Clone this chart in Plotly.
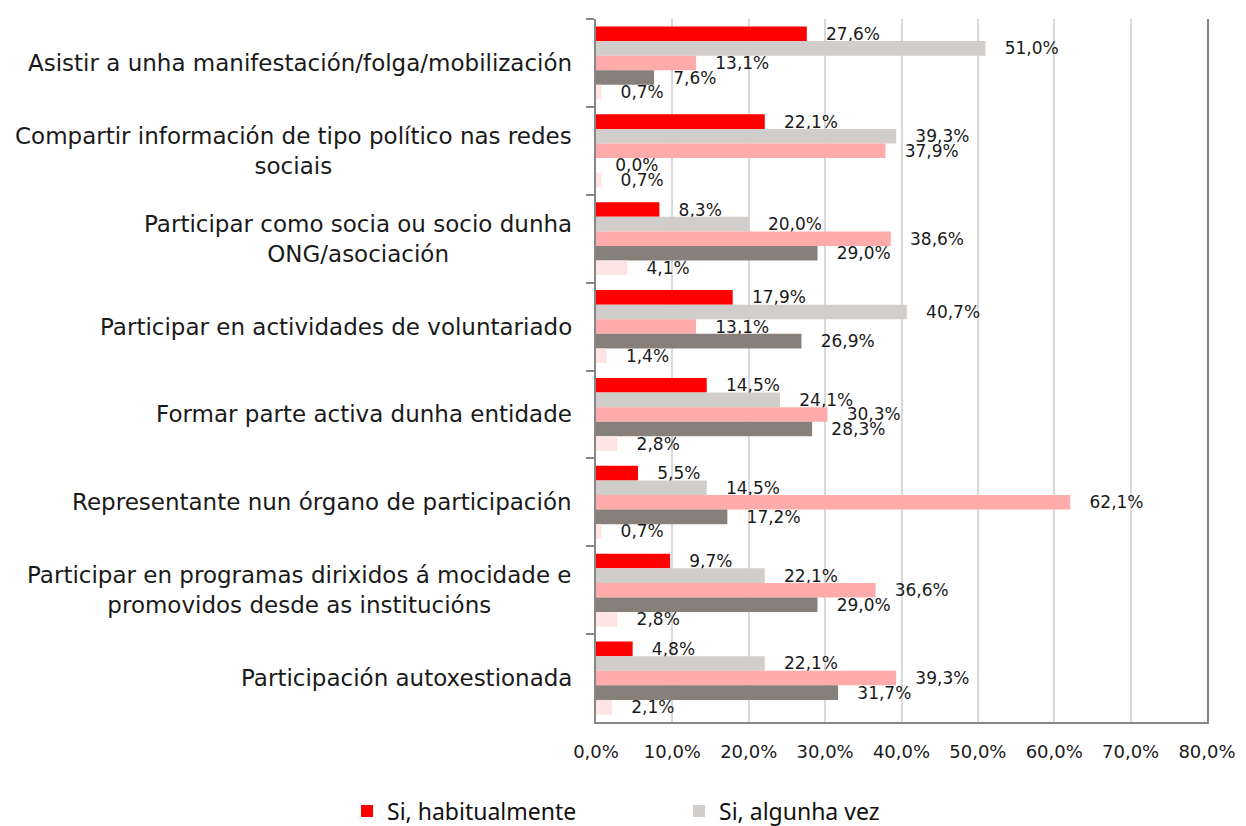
import plotly.graph_objects as go

categories = [
    "Asistir a unha manifestación/folga/mobilización",
    "Compartir información de tipo político nas redes<br>sociais",
    "Participar como socia ou socio dunha<br>ONG/asociación",
    "Participar en actividades de voluntariado",
    "Formar parte activa dunha entidade",
    "Representante nun órgano de participación",
    "Participar en programas dirixidos á mocidade e<br>promovidos desde as institucións",
    "Participación autoxestionada",
]

series_names = ["Si, habitualmente", "Si, algunha vez", "Non, pero gustaríame",
                "Non, e non me interesa", "NS/NC"]
habitualmente = [27.6, 22.1, 8.3, 17.9, 14.5, 5.5, 9.7, 4.8]
algunha_vez = [51.0, 39.3, 20.0, 40.7, 24.1, 14.5, 22.1, 22.1]
gustariame = [13.1, 37.9, 38.6, 13.1, 30.3, 62.1, 36.6, 39.3]
non_interesa = [7.6, 0.0, 29.0, 26.9, 28.3, 17.2, 29.0, 31.7]
nsnc = [0.7, 0.7, 4.1, 1.4, 2.8, 0.7, 2.8, 2.1]
series_values = [habitualmente, algunha_vez, gustariame, non_interesa, nsnc]
colors = ["#FF0000", "#D0CDCA", "#FFABAB", "#877F79", "#FFE4E4"]
legend_shown = [True, True, False, False, False]

x_ticks = [0, 10, 20, 30, 40, 50, 60, 70, 80]
x_tick_text = [f"{v:.1f}%".replace(".", ",") for v in x_ticks]

label_font = "DejaVu Sans"
axis_grey = "#878787"

fig = go.Figure()
for name, vals, col, show in zip(series_names, series_values, colors, legend_shown):
    fig.add_trace(go.Bar(
        y=categories, x=vals, name=name, orientation="h",
        marker=dict(color=col, line=dict(width=0)),
        texttemplate="\u00a0\u00a0\u00a0%{x:.1f}%",
        textposition="outside",
        constraintext="none",
        textangle=0,
        textfont=dict(family=label_font, size=17, color="#1a1a1a"),
        cliponaxis=False,
        showlegend=show,
    ))

for c in categories:
    fig.add_annotation(
        x=0, xref="paper", y=c, yref="y", xanchor="right", yanchor="middle",
        xshift=-22, text=c, showarrow=False, align="center",
        font=dict(family=label_font, size=23, color="#1a1a1a"),
    )

fig.update_layout(
    width=1246, height=826,
    margin=dict(l=596, r=39, t=19, b=104, autoexpand=False),
    paper_bgcolor="white", plot_bgcolor="white",
    barmode="group", bargap=0.17, bargroupgap=0,
    separators=",.",
    legend=dict(
        orientation="h",
        x=-0.4075, xanchor="left", y=-0.1266, yanchor="middle",
        font=dict(family="Noto Sans", size=23, color="#111111"),
        entrywidth=287, entrywidthmode="pixels",
        traceorder="normal",
    ),
    showlegend=True,
    xaxis=dict(
        range=[0, 80], tickvals=x_ticks, ticktext=x_tick_text,
        showgrid=True, gridcolor="#D9D9D9", gridwidth=2,
        showline=True, linecolor=axis_grey, linewidth=2,
        ticks="", ticklabelstandoff=12,
        tickfont=dict(family=label_font, size=18, color="#1a1a1a"),
        zeroline=False,
    ),
    xaxis2=dict(
        range=[0, 80], tickvals=x_ticks, overlaying="x", side="top",
        showticklabels=False, showgrid=False,
        showline=True, linecolor=axis_grey, linewidth=2,
        ticks="outside", ticklen=5, tickcolor=axis_grey, tickwidth=2,
        zeroline=False,
    ),
    yaxis=dict(
        autorange="reversed", showticklabels=False,
        showline=True, linecolor=axis_grey, linewidth=2, mirror=True,
        ticks="outside", ticklen=8, tickcolor=axis_grey, tickwidth=2,
        tickson="boundaries", showgrid=False,
    ),
)

fig.write_html("out.html", config={"displayModeBar": False},
               post_script="document.body.style.margin='0';")
